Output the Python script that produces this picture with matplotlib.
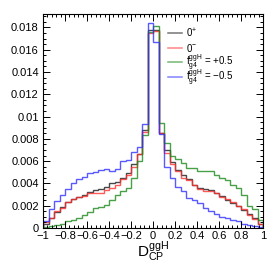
import numpy as np
import matplotlib
matplotlib.use("Agg")
import matplotlib.pyplot as plt
from matplotlib.ticker import MultipleLocator, FuncFormatter
from matplotlib.lines import Line2D

plt.rcParams['font.family'] = ['Liberation Sans', 'DejaVu Sans']
plt.rcParams['mathtext.fontset'] = 'custom'
plt.rcParams['mathtext.rm'] = 'Liberation Sans'
plt.rcParams['mathtext.it'] = 'Liberation Sans:italic'
plt.rcParams['mathtext.bf'] = 'Liberation Sans:bold'

# ---- data (40 bins from -1 to 1) ----
x_min, x_max, n_bins = -1.0, 1.0, 40

sm_0plus = [0.0004, 0.0009, 0.0014, 0.0019, 0.0023, 0.0026, 0.0028, 0.0030, 0.0032, 0.0034,
            0.0035, 0.0037, 0.0040, 0.0041, 0.0045, 0.0049, 0.0057, 0.0066, 0.0088, 0.0178,
            0.0178, 0.0085, 0.0070, 0.0059, 0.0052, 0.0048, 0.0044, 0.0039, 0.0036, 0.0035,
            0.0034, 0.0031, 0.0029, 0.0025, 0.0022, 0.0020, 0.0016, 0.0013, 0.0009, 0.0004]

ps_0minus = [0.0005, 0.0009, 0.0015, 0.0018, 0.0023, 0.0026, 0.0028, 0.0029, 0.0031, 0.0031,
             0.0031, 0.0034, 0.0036, 0.0039, 0.0044, 0.0048, 0.0055, 0.0066, 0.0086, 0.0175,
             0.0177, 0.0085, 0.0067, 0.0057, 0.0051, 0.0045, 0.0043, 0.0039, 0.0035, 0.0033,
             0.0033, 0.0031, 0.0028, 0.0026, 0.0023, 0.0020, 0.0017, 0.0012, 0.0008, 0.0004]

mix_plus = [0.0001, 0.0002, 0.0003, 0.0004, 0.0006, 0.0007, 0.0009, 0.0012, 0.0014, 0.0018,
            0.0019, 0.0021, 0.0025, 0.0030, 0.0033, 0.0036, 0.0045, 0.0060, 0.0083, 0.0176,
            0.0181, 0.0094, 0.0076, 0.0065, 0.0062, 0.0058, 0.0054, 0.0054, 0.0051, 0.0051,
            0.0051, 0.0048, 0.0045, 0.0043, 0.0039, 0.0036, 0.0030, 0.0020, 0.0017, 0.0007]

mix_minus = [0.0006, 0.0017, 0.0024, 0.0030, 0.0035, 0.0040, 0.0044, 0.0046, 0.0049, 0.0050,
             0.0052, 0.0053, 0.0051, 0.0053, 0.0060, 0.0061, 0.0068, 0.0073, 0.0093, 0.0184,
             0.0167, 0.0084, 0.0055, 0.0045, 0.0037, 0.0033, 0.0027, 0.0025, 0.0022, 0.0018,
             0.0015, 0.0013, 0.0010, 0.0009, 0.0007, 0.0006, 0.0004, 0.0003, 0.0002, 0.0001]

labels = [r'$\mathrm{0^{+}}$', r'$\mathrm{0^{-}}$',
          r'$\mathrm{f_{g4}^{ggH}}$ = +0.5', r'$\mathrm{f_{g4}^{ggH}}$ = $-$0.5']
colors = ['#1a1a1a', '#ff3030', '#1a8a1a', '#3030ff']
series = [sm_0plus, ps_0minus, mix_plus, mix_minus]

edges = np.linspace(x_min, x_max, n_bins + 1)

fig = plt.figure(figsize=(2.74, 2.63), dpi=100)
ax = fig.add_axes([43/274, 1-228/263, 220/274, 214/263])

for vals, c in zip(series, colors):
    ax.stairs(vals, edges, baseline=0, color=c, lw=1.0, alpha=0.8)

ax.set_xlim(x_min, x_max)
ax.set_ylim(0, 0.0192)

ax.xaxis.set_major_locator(MultipleLocator(0.2))
ax.xaxis.set_minor_locator(MultipleLocator(0.04))
ax.yaxis.set_major_locator(MultipleLocator(0.002))
ax.yaxis.set_minor_locator(MultipleLocator(0.0005))

def fmt(v, pos):
    s = '%g' % round(v, 6)
    if s == '-0':
        s = '0'
    return s.replace('-', '\u2212')

ax.xaxis.set_major_formatter(FuncFormatter(fmt))
ax.yaxis.set_major_formatter(FuncFormatter(fmt))

ax.tick_params(which='both', direction='in', top=True, right=True, labelsize=8, width=0.7)
ax.tick_params(which='major', length=5)
ax.tick_params(which='minor', length=2.5)
ax.tick_params(axis='y', pad=3)
ax.tick_params(axis='x', pad=2.5)
for sp in ax.spines.values():
    sp.set_linewidth(0.8)

ax.set_xlabel(r'$\mathrm{D_{CP}^{ggH}}$', fontsize=11)
ax.xaxis.set_label_coords(0.5, -0.058)

# legend (manual layout, ROOT style)
row_y = [0.911, 0.841, 0.774, 0.704]
for yy, c, lab in zip(row_y, colors, labels):
    ax.add_line(Line2D([0.568, 0.632], [yy, yy], transform=ax.transAxes,
                       color=c, lw=1.1, alpha=0.6))
    ax.text(0.648, yy, lab, transform=ax.transAxes, fontsize=7,
            va='center', ha='left')

fig.savefig('out.png', dpi=100)
